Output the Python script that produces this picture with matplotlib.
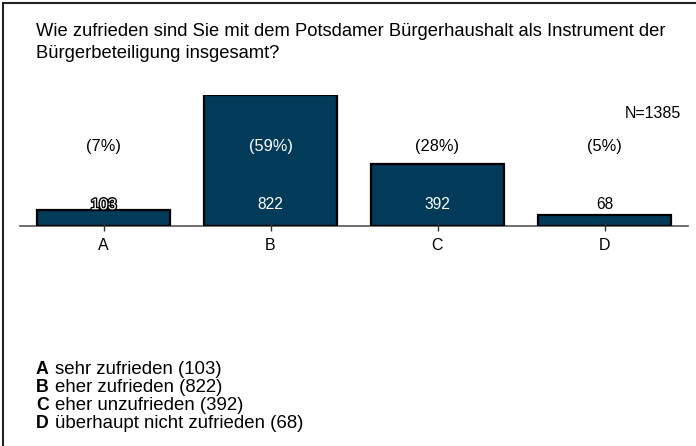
import matplotlib.pyplot as plt
import matplotlib.patheffects as pe
import numpy as np

categories = ["A", "B", "C", "D"]
counts = [103, 822, 392, 68]
percents = ["(7%)", "(59%)", "(28%)", "(5%)"]
answers = ["sehr zufrieden", "eher zufrieden", "eher unzufrieden",
           "überhaupt nicht zufrieden"]
title_lines = ["Wie zufrieden sind Sie mit dem Potsdamer Bürgerhaushalt als Instrument der",
               "Bürgerbeteiligung insgesamt?"]
n_total = 1385

plt.rcParams['font.family'] = ['Liberation Sans', 'DejaVu Sans']

W, H = 696, 446
fig = plt.figure(figsize=(W / 100, H / 100), dpi=100)

def fx(px):
    return px / W

def fy(py):
    return 1 - py / H

# frame lines on top and left edge
fig.add_artist(plt.Line2D([fx(3), fx(696)], [fy(2.5), fy(2.5)], color="#222222", lw=1.5))
fig.add_artist(plt.Line2D([fx(3), fx(3)], [fy(2.5), fy(446)], color="#222222", lw=1.5))

ax = fig.add_axes([fx(20), fy(226), fx(688) - fx(20), fy(95) - fy(226)])
x = np.arange(len(categories))
bars = ax.bar(x, counts, width=0.8, color="#023a5a", edgecolor="black", linewidth=1.6)
ax.set_xlim(-0.5, 3.5)
ax.set_ylim(0, max(counts))
for s in ["top", "right", "left"]:
    ax.spines[s].set_visible(False)
ax.spines["bottom"].set_color("#555555")
ax.spines["bottom"].set_linewidth(1.2)
ax.spines["bottom"].set_zorder(0)
ax.set_yticks([])
ax.set_xticks(x)
ax.set_xticklabels(categories, fontsize=11.5)
ax.tick_params(axis="x", direction="inout", length=7, width=1, color="#333333", pad=5)

# value labels: y positions in data units
count_y = 133
pct_y = 500
for xi, c, p in zip(x, counts, percents):
    inside = c > count_y + 60
    if inside:
        ax.text(xi, count_y, str(c), ha="center", va="center", fontsize=11.2,
                color="white", clip_on=False)
    elif c > count_y - 40:
        t = ax.text(xi, count_y, str(c), ha="center", va="center", fontsize=11.2,
                    color="white", clip_on=False)
        t.set_path_effects([pe.withStroke(linewidth=2, foreground="black")])
    else:
        ax.text(xi, count_y, str(c), ha="center", va="center", fontsize=11.2,
                color="black", clip_on=False)
    pcol = "white" if c > pct_y + 40 else "black"
    ax.text(xi, pct_y, p, ha="center", va="center", fontsize=11.8, color=pcol,
            clip_on=False)

for i, line in enumerate(title_lines):
    fig.text(fx(36), fy(31 + 22 * i), line, fontsize=13.2, va="center", ha="left")
fig.text(fx(681), fy(113), f"N={n_total}", fontsize=11.5, ha="right", va="center")

for i, (cat, ans, c) in enumerate(zip(categories, answers, counts)):
    yy = fy(369 + 18 * i)
    fig.text(fx(36), yy, cat, fontsize=12.8, fontweight="bold", va="center")
    fig.text(fx(55), yy, f"{ans} ({c})", fontsize=13.4, va="center")

fig.savefig("out.png", dpi=100)
